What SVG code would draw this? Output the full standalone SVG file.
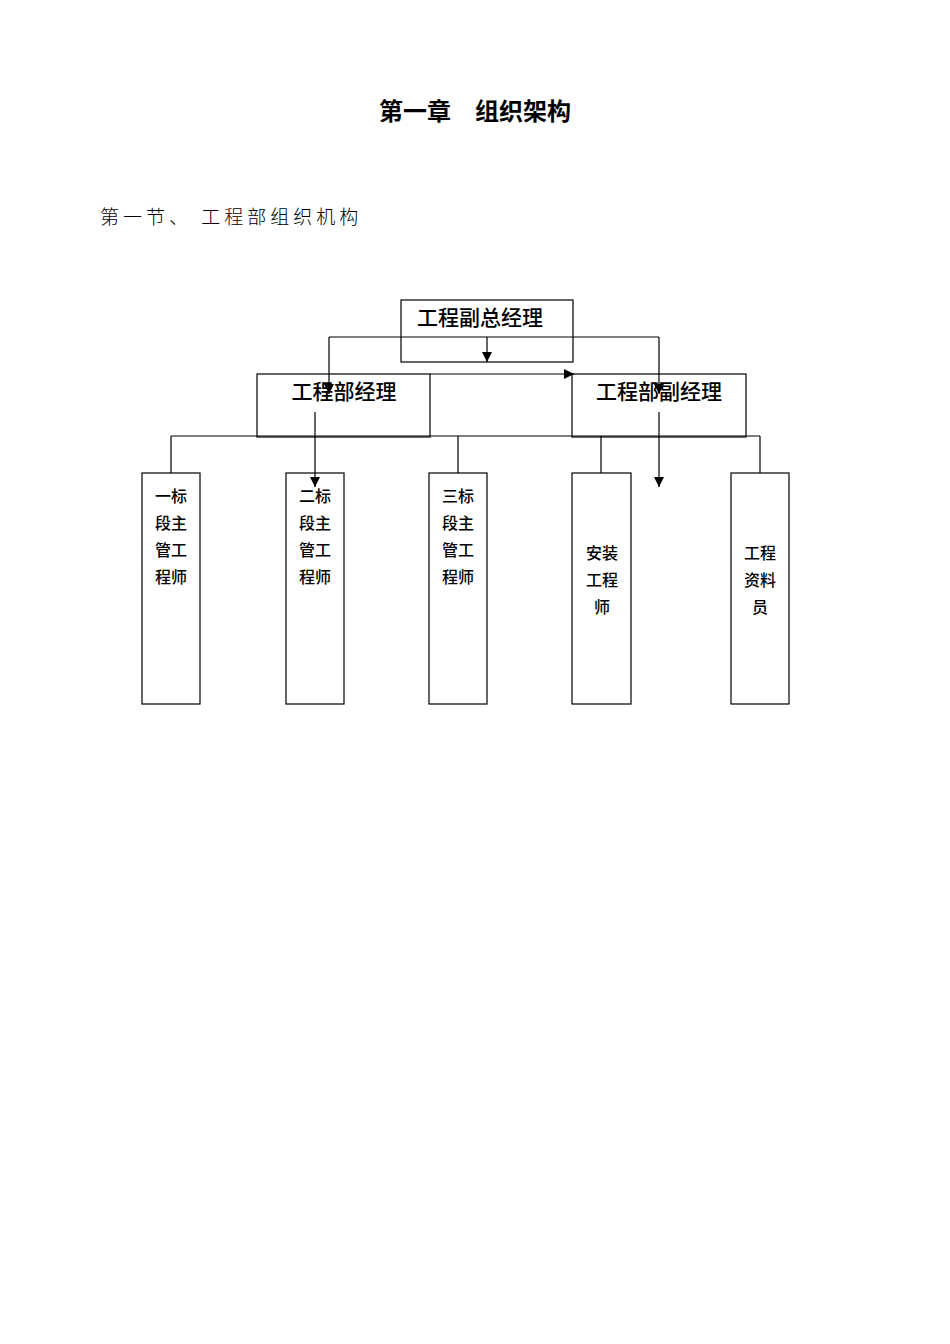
<svg xmlns="http://www.w3.org/2000/svg" width="950" height="1344" viewBox="0 0 950 1344">
<defs><marker id="a" viewBox="0 0 10 10" refX="10" refY="5" markerWidth="10" markerHeight="10" markerUnits="userSpaceOnUse" orient="auto"><path d="M0,0L10,5L0,10z" fill="#000"/></marker></defs>
<style>
.b{fill:none;stroke:#000;stroke-width:1.2}
.l{fill:none;stroke:#000;stroke-width:1.2}
.t{font-family:"Liberation Sans","Noto Sans CJK SC",sans-serif;fill:#000}
.s{font-size:16px;font-weight:500;text-anchor:middle}
.m{font-size:21px;font-weight:500;text-anchor:middle}
</style>
<rect width="950" height="1344" fill="#fff"/>
<text class="t" x="475" y="120" font-size="24" font-weight="bold" text-anchor="middle">第一章　组织架构</text>
<text class="t" x="100" y="224" font-size="19" font-weight="300" letter-spacing="4">第一节、 工程部组织机构</text>
<g id="connectors">
<path class="l" d="M329,337H659M171,436H760M171,436V473M458,436V473M601,436V473M760,436V473"/>
<path class="l" d="M329,337V394" marker-end="url(#a)"/>
<path class="l" d="M659,337V394" marker-end="url(#a)"/>
<path class="l" d="M487,337V362" marker-end="url(#a)"/>
<path class="l" d="M430,374H574" marker-end="url(#a)"/>
<path class="l" d="M315,412V487" marker-end="url(#a)"/>
<path class="l" d="M659,412V487" marker-end="url(#a)"/>
</g>
<g id="n1"><rect class="b" x="401" y="300" width="172" height="62"/><text class="t m" x="480" y="325">工程副总经理</text></g>
<g id="n2"><rect class="b" x="257" y="374" width="173" height="63"/><text class="t m" x="344" y="399">工程部经理</text></g>
<g id="n3"><rect class="b" x="572" y="374" width="174" height="63"/><text class="t m" x="659" y="399">工程部副经理</text></g>
<g id="n4"><rect class="b" x="142" y="473" width="58" height="231"/><text class="t s" x="171" y="502">一标</text><text class="t s" x="171" y="529">段主</text><text class="t s" x="171" y="556">管工</text><text class="t s" x="171" y="583">程师</text></g>
<g id="n5"><rect class="b" x="286" y="473" width="58" height="231"/><text class="t s" x="315" y="502">二标</text><text class="t s" x="315" y="529">段主</text><text class="t s" x="315" y="556">管工</text><text class="t s" x="315" y="583">程师</text></g>
<g id="n6"><rect class="b" x="429" y="473" width="58" height="231"/><text class="t s" x="458" y="502">三标</text><text class="t s" x="458" y="529">段主</text><text class="t s" x="458" y="556">管工</text><text class="t s" x="458" y="583">程师</text></g>
<g id="n7"><rect class="b" x="572" y="473" width="59" height="231"/><text class="t s" x="602" y="559">安装</text><text class="t s" x="602" y="586">工程</text><text class="t s" x="602" y="613">师</text></g>
<g id="n8"><rect class="b" x="731" y="473" width="58" height="231"/><text class="t s" x="760" y="559">工程</text><text class="t s" x="760" y="586">资料</text><text class="t s" x="760" y="613">员</text></g>
</svg>
